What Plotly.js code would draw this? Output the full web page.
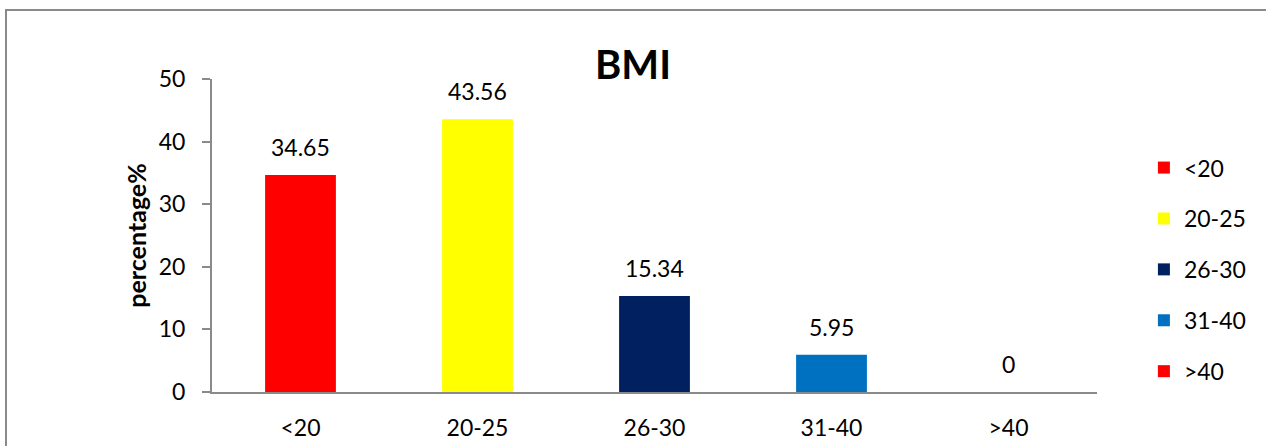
<!DOCTYPE html>
<html>
<head>
<meta charset="utf-8">
<script src="https://cdn.plot.ly/plotly-3.0.1.min.js"></script>
<style>
html,body{margin:0;padding:0;background:#fff;}
#wrap{position:relative;width:1266px;height:446px;overflow:hidden;}
#chart{position:absolute;left:0;top:0;width:1266px;height:446px;}
#frame{position:absolute;left:5px;top:9px;width:1400px;height:600px;border-top:2px solid #8a8a8a;border-left:2px solid #8a8a8a;pointer-events:none;}
</style>
</head>
<body>
<div id="wrap"><div id="chart"></div><div id="frame"></div></div>
<script>
const categories = ["<20", "20-25", "26-30", "31-40", ">40"];
const values = [34.65, 43.56, 15.34, 5.95, 0];
const colors = ["#FF0000", "#FFFF00", "#002060", "#0070C0", "#FF0000"];
const yTicks = [0, 10, 20, 30, 40, 50];

const FONT = "Lato, 'Open Sans', sans-serif";

const traces = categories.map((c, i) => ({
  type: "bar",
  name: c,
  x: [c],
  y: [values[i]],
  width: 0.4,
  marker: {color: colors[i], line: {width: 0}},
  legendgroup: "g" + i,
  hoverinfo: "x+y"
}));

const annotations = categories.map((c, i) => ({
  x: c, y: values[i], xref: "x", yref: "y",
  text: String(values[i]),
  showarrow: false,
  yanchor: "bottom",
  yshift: 12,
  font: {family: FONT, size: 23, color: "#000"}
}));

const layout = {
  width: 1266, height: 446,
  margin: {l: 212, r: 169, t: 79, b: 54, pad: 0},
  paper_bgcolor: "#fff", plot_bgcolor: "#fff",
  barmode: "overlay",
  showlegend: true,
  title: {
    text: "<b>BMI</b>",
    font: {family: FONT, size: 40, color: "#000"},
    xref: "container", x: 0.5, xanchor: "center",
    yref: "container", y: 1 - 65/446, yanchor: "middle"
  },
  xaxis: {
    type: "category",
    categoryorder: "array", categoryarray: categories,
    showline: true, linecolor: "#8a8a8a", linewidth: 2,
    ticks: "", showgrid: false, zeroline: false,
    tickfont: {family: FONT, size: 23, color: "#000"},
    ticklabelstandoff: 14
  },
  yaxis: {
    range: [0, 50],
    tickvals: yTicks,
    ticktext: yTicks.map(String),
    showline: true, linecolor: "#8a8a8a", linewidth: 2,
    ticks: "outside", ticklen: 8, tickcolor: "#8a8a8a", tickwidth: 2,
    showgrid: false, zeroline: false,
    tickfont: {family: FONT, size: 23, color: "#000"},
    ticklabelstandoff: 12,
    title: {text: "<b>percentage%</b>", font: {family: FONT, size: 25, color: "#000"}, standoff: 5}
  },
  legend: {
    x: 1.053, xanchor: "left",
    y: 0.391, yanchor: "middle",
    traceorder: "grouped", tracegroupgap: 18,
    font: {family: FONT, size: 23, color: "#000"},
    bgcolor: "rgba(0,0,0,0)", borderwidth: 0
  },
  annotations: annotations
};

Plotly.newPlot("chart", traces, layout, {displayModeBar: false, staticPlot: true});
</script>
</body>
</html>
